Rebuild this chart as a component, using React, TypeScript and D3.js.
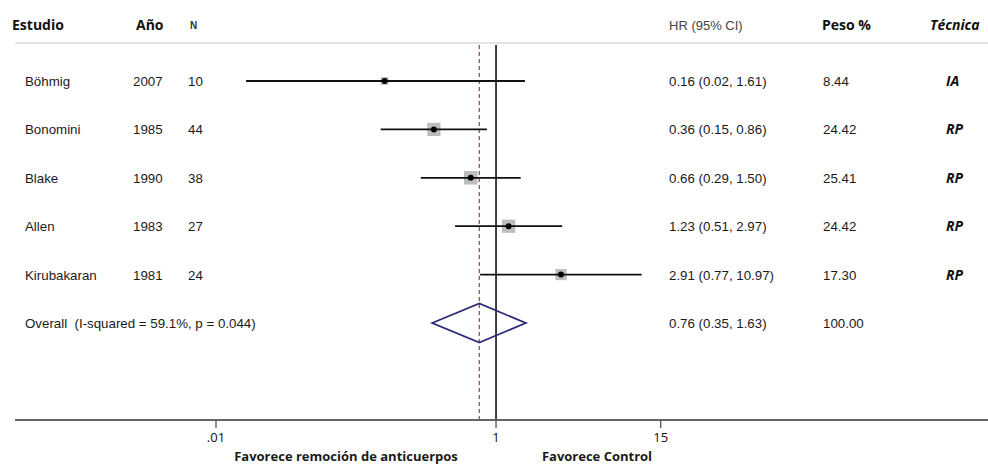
import React from 'react';
import * as d3 from 'd3';

const studies = ['Böhmig', 'Bonomini', 'Blake', 'Allen', 'Kirubakaran'];
const years = ['2007', '1985', '1990', '1983', '1981'];
const sampleSizes = [10, 44, 38, 27, 24];
const hr = [0.16, 0.36, 0.66, 1.23, 2.91];
const ciLow = [0.0164, 0.15, 0.29, 0.51, 0.77];
const ciHigh = [1.61, 0.86, 1.5, 2.97, 10.97];
const weights = [8.44, 24.42, 25.41, 24.42, 17.3];
const tecnica = ['IA', 'RP', 'RP', 'RP', 'RP'];

const overallLabel = 'Overall  (I-squared = 59.1%, p = 0.044)';
const overallHr = 0.76;
const overallLow = 0.35;
const overallHigh = 1.63;
const overallWeight = 100;

const tickValues = [0.01, 1, 15];
const tickLabels = ['.01', '1', '15'];

const W = 988;
const H = 467;
const helv = '"Liberation Sans", Arial, sans-serif';
const cal = '"Open Sans", "Noto Sans", sans-serif';

export default function App() {
  const x = d3.scaleLog().domain([0.01, 15]).range([216, 660.7]);
  const y = d3.scaleLinear().domain([0, 5]).range([81, 323]);
  const box = d3.scaleSqrt().domain([0, d3.max(weights) as number]).range([0, 13.5]);
  const f2 = d3.format('.2f');

  const axisY = 420;
  const topY = 45;
  const oy = y(5);
  const dh = 19.5;
  const diamond = d3.line()([
    [x(overallLow), oy],
    [x(overallHr), oy - dh],
    [x(overallHigh), oy],
    [x(overallHr), oy + dh],
  ]) + 'Z';

  return (
    <svg width={W} height={H} style={{ position: 'fixed', left: 0, top: 0, background: '#fff' }}>
      {/* header */}
      <g fontFamily={cal} fontWeight="bold" fontSize={14} fill="#111">
        <text x={12} y={30}>Estudio</text>
        <text x={136} y={30}>Año</text>
        <text x={822} y={30}>Peso %</text>
        <text x={930} y={30} fontStyle="italic">Técnica</text>
      </g>
      <text x={190} y={29} fontFamily={helv} fontWeight="bold" fontSize={10} fill="#333">N</text>
      <text x={669} y={30} fontFamily={helv} fontSize={13} fill="#444">HR (95% CI)</text>
      <line x1={15} x2={W} y1={43} y2={43} stroke="#e4e4e4" strokeWidth={2} />

      {/* reference lines */}
      <line x1={x(1)} x2={x(1)} y1={topY} y2={axisY} stroke="#111" strokeWidth={1.6} />
      <line x1={x(overallHr)} x2={x(overallHr)} y1={topY} y2={axisY}
        stroke="#9a5a5a" strokeWidth={1.4} strokeDasharray="4,3" />

      {/* studies */}
      {studies.map((s, i) => {
        const cy = y(i);
        const side = box(weights[i]);
        return (
          <g key={s}>
            <text x={25} y={cy + 5} fontFamily={helv} fontSize={13.3} fill="#1a1a1a">{s}</text>
            <text x={133} y={cy + 5} fontFamily={helv} fontSize={13.3} fill="#1a1a1a">{years[i]}</text>
            <text x={188} y={cy + 5} fontFamily={helv} fontSize={13.3} fill="#1a1a1a">{sampleSizes[i]}</text>
            <rect x={x(hr[i]) - side / 2} y={cy - side / 2} width={side} height={side} fill="#bdbdbd" />
            <line x1={x(ciLow[i])} x2={x(ciHigh[i])} y1={cy} y2={cy} stroke="#111" strokeWidth={1.8} />
            <circle cx={x(hr[i])} cy={cy} r={3} fill="#000" />
            <text x={669} y={cy + 5} fontFamily={helv} fontSize={13.3} fill="#1a1a1a">
              {`${f2(hr[i])} (${f2(ciLow[i])}, ${f2(ciHigh[i])})`}
            </text>
            <text x={823} y={cy + 5} fontFamily={helv} fontSize={13.3} fill="#1a1a1a">{f2(weights[i])}</text>
            <text x={946} y={cy + 5} fontFamily={cal} fontWeight="bold" fontStyle="italic" fontSize={14} fill="#111">
              {tecnica[i]}
            </text>
          </g>
        );
      })}

      {/* overall */}
      <text x={25} y={oy + 5} fontFamily={helv} fontSize={13.3} fill="#1a1a1a" style={{ whiteSpace: 'pre' }}>
        {overallLabel}
      </text>
      <path d={diamond} fill="none" stroke="#2a2a78" strokeWidth={1.8} />
      <text x={669} y={oy + 5} fontFamily={helv} fontSize={13.3} fill="#1a1a1a">
        {`${f2(overallHr)} (${f2(overallLow)}, ${f2(overallHigh)})`}
      </text>
      <text x={823} y={oy + 5} fontFamily={helv} fontSize={13.3} fill="#1a1a1a">{f2(overallWeight)}</text>

      {/* axis */}
      <line x1={15} x2={W} y1={axisY} y2={axisY} stroke="#666" strokeWidth={2} />
      {tickValues.map((t, i) => (
        <g key={t}>
          <line x1={x(t)} x2={x(t)} y1={axisY} y2={axisY + 8} stroke="#555" strokeWidth={1.3} />
          <text x={x(t)} y={axisY + 22} textAnchor="middle" fontFamily={cal} fontSize={13} fill="#111">
            {tickLabels[i]}
          </text>
        </g>
      ))}
      <text x={346} y={461} textAnchor="middle" fontFamily={cal} fontWeight="bold" fontSize={13} fill="#1a1a1a">
        Favorece remoción de anticuerpos
      </text>
      <text x={597} y={461} textAnchor="middle" fontFamily={cal} fontWeight="bold" fontSize={13} fill="#1a1a1a">
        Favorece Control
      </text>
    </svg>
  );
}
